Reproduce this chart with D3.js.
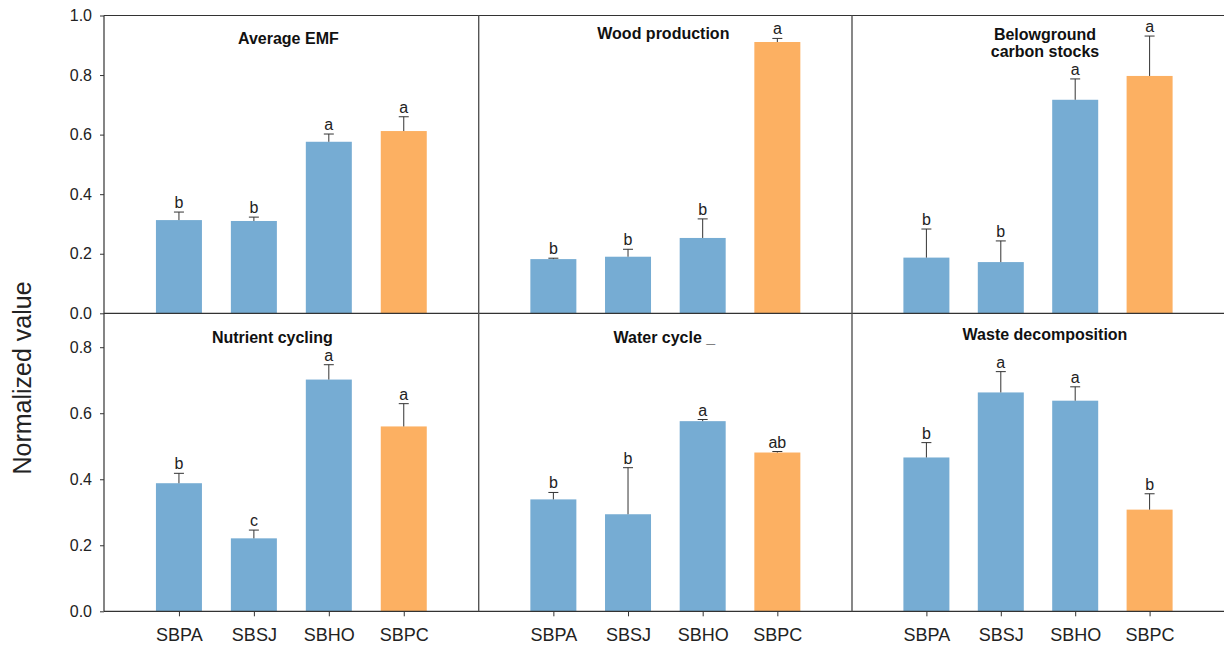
<!DOCTYPE html>
<html>
<head>
<meta charset="utf-8">
<script src="https://cdn.jsdelivr.net/npm/d3@7"></script>
<style>
  html, body { margin: 0; padding: 0; background: #fff; }
  svg { display: block; font-family: Arial, "Liberation Sans", sans-serif; }
</style>
</head>
<body>
<svg id="chart" width="1225" height="646"></svg>
<script>
// ---- data ----
const sites = ["SBPA", "SBSJ", "SBHO", "SBPC"];
const panelTitles = [
  ["Average EMF"], ["Wood production"], ["Belowground", "carbon stocks"],
  ["Nutrient cycling"], ["Water cycle _"], ["Waste decomposition"]
];
const meanEMF      = [0.313, 0.310, 0.576, 0.612];
const errEMF       = [0.027, 0.013, 0.026, 0.048];
const meanWood     = [0.182, 0.190, 0.253, 0.911];
const errWood      = [0.003, 0.025, 0.064, 0.012];
const meanBelow    = [0.187, 0.172, 0.717, 0.797];
const errBelow     = [0.096, 0.071, 0.070, 0.134];
const meanNutrient = [0.388, 0.221, 0.702, 0.560];
const errNutrient  = [0.030, 0.025, 0.045, 0.069];
const meanWater    = [0.339, 0.294, 0.576, 0.481];
const errWater     = [0.021, 0.141, 0.005, 0.003];
const meanWaste    = [0.466, 0.663, 0.638, 0.308];
const errWaste     = [0.045, 0.063, 0.042, 0.048];
const lettersEMF      = ["b", "b", "a", "a"];
const lettersWood     = ["b", "b", "b", "a"];
const lettersBelow    = ["b", "b", "a", "a"];
const lettersNutrient = ["b", "c", "a", "a"];
const lettersWater    = ["b", "b", "a", "ab"];
const lettersWaste    = ["b", "a", "a", "b"];
const topTicks    = [0.0, 0.2, 0.4, 0.6, 0.8, 1.0];
const bottomTicks = [0.0, 0.2, 0.4, 0.6, 0.8];
const highlightSite = "SBPC";

const panels = [
  { mean: meanEMF,      err: errEMF,      letters: lettersEMF },
  { mean: meanWood,     err: errWood,     letters: lettersWood },
  { mean: meanBelow,    err: errBelow,    letters: lettersBelow },
  { mean: meanNutrient, err: errNutrient, letters: lettersNutrient },
  { mean: meanWater,    err: errWater,    letters: lettersWater },
  { mean: meanWaste,    err: errWaste,    letters: lettersWaste }
];

// ---- layout ----
const colEdges = [104, 478.7, 852, 1224];
const rowTop = 15.5, rowMid = 313.3, rowBot = 611.3;
const titleLayout = [
  { dx: -3, y: 44 }, { dx: -2, y: 39 }, { dx: 7, y: 46 },
  { dx: -19, y: 343 }, { dx: -1, y: 343 }, { dx: 7, y: 340 }
];
const blue = "#76acd3", orange = "#fcb062", ink = "#222";

const svg = d3.select("#chart");

const yTop = d3.scaleLinear().domain([0, 1.0]).range([rowMid, rowTop]);
const yBot = d3.scaleLinear().domain([0, 0.9]).range([rowBot, rowMid + 0.9]);

function xScaleFor(col) {
  return d3.scalePoint().domain(sites).range([colEdges[col], colEdges[col + 1]]).padding(1);
}

const barW = 46, capW = 10;

panels.forEach((p, i) => {
  const row = Math.floor(i / 3), col = i % 3;
  const x = xScaleFor(col);
  const y = row === 0 ? yTop : yBot;
  const g = svg.append("g");
  const rows = sites.map((s, k) => ({ site: s, v: p.mean[k], e: p.err[k], l: p.letters[k] }));

  g.selectAll("rect.bar").data(rows).join("rect")
    .attr("class", "bar")
    .attr("x", d => x(d.site) - barW / 2)
    .attr("width", barW)
    .attr("y", d => y(d.v))
    .attr("height", d => y(0) - y(d.v))
    .attr("fill", d => d.site === highlightSite ? orange : blue);

  // upper error whiskers
  g.selectAll("line.err").data(rows).join("line")
    .attr("class", "err")
    .attr("x1", d => x(d.site)).attr("x2", d => x(d.site))
    .attr("y1", d => y(d.v)).attr("y2", d => y(d.v + d.e))
    .attr("stroke", "#333").attr("stroke-width", 1);
  g.selectAll("line.cap").data(rows).join("line")
    .attr("class", "cap")
    .attr("x1", d => x(d.site) - capW / 2).attr("x2", d => x(d.site) + capW / 2)
    .attr("y1", d => y(d.v + d.e)).attr("y2", d => y(d.v + d.e))
    .attr("stroke", "#333").attr("stroke-width", 1);

  // significance letters
  g.selectAll("text.sig").data(rows).join("text")
    .attr("class", "sig")
    .attr("x", d => x(d.site))
    .attr("y", d => y(d.v + d.e) - 4)
    .attr("text-anchor", "middle")
    .attr("font-size", 16)
    .attr("fill", ink)
    .text(d => d.l);

  // panel title
  const tl = titleLayout[i];
  const cx = (colEdges[col] + colEdges[col + 1]) / 2 + tl.dx;
  const t = g.append("text")
    .attr("x", cx).attr("y", tl.y)
    .attr("text-anchor", "middle")
    .attr("font-size", 16).attr("font-weight", "bold").attr("fill", "#111");
  panelTitles[i].forEach((line, j) => {
    t.append("tspan").attr("x", cx).attr("dy", j === 0 ? 0 : 17).text(line);
  });
  if (panelTitles[i].length > 1) t.attr("y", tl.y - 6);

  // category axis along the bottom row
  if (row === 1) {
    const ax = svg.append("g")
      .attr("transform", `translate(0,${rowBot})`)
      .call(d3.axisBottom(x).tickSize(5).tickPadding(12).tickSizeOuter(0));
    ax.select(".domain").remove();
    ax.selectAll("line").attr("stroke", "#333");
    ax.selectAll("text").attr("font-size", 18).attr("fill", ink)
      .attr("font-family", "Arial, 'Liberation Sans', sans-serif");
  }
});

// value axes on the left
function styleY(ax) {
  ax.select(".domain").remove();
  ax.selectAll("line").attr("stroke", "#333");
  ax.selectAll("text").attr("font-size", 16).attr("fill", ink)
    .attr("font-family", "Arial, 'Liberation Sans', sans-serif");
}
svg.append("g").attr("transform", `translate(${colEdges[0]},0)`)
  .call(d3.axisLeft(yTop).tickValues(topTicks).tickFormat(d3.format(".1f")).tickSize(4).tickPadding(8))
  .call(styleY);
svg.append("g").attr("transform", `translate(${colEdges[0]},0)`)
  .call(d3.axisLeft(yBot).tickValues(bottomTicks).tickFormat(d3.format(".1f")).tickSize(4).tickPadding(8))
  .call(styleY);

// frame and panel dividers
const frame = svg.append("g").attr("fill", "none");
frame.append("line").attr("x1", colEdges[0]).attr("x2", colEdges[3]).attr("y1", rowTop).attr("y2", rowTop)
  .attr("stroke", "#333").attr("stroke-width", 1.2);
frame.append("line").attr("x1", colEdges[0]).attr("x2", colEdges[3]).attr("y1", rowMid).attr("y2", rowMid)
  .attr("stroke", "#333").attr("stroke-width", 1.2);
frame.append("line").attr("x1", colEdges[0]).attr("x2", colEdges[3]).attr("y1", rowBot).attr("y2", rowBot)
  .attr("stroke", "#333").attr("stroke-width", 1.2);
frame.append("line").attr("x1", colEdges[0]).attr("x2", colEdges[0]).attr("y1", rowTop).attr("y2", rowBot)
  .attr("stroke", "#333").attr("stroke-width", 1.2);
[colEdges[1], colEdges[2]].forEach(xv => {
  frame.append("line").attr("x1", xv).attr("x2", xv).attr("y1", rowTop).attr("y2", rowBot)
    .attr("stroke", "#555").attr("stroke-width", 1.4);
});

// shared y-axis title
svg.append("text")
  .attr("transform", "translate(31,378) rotate(-90)")
  .attr("text-anchor", "middle")
  .attr("font-size", 25).attr("fill", ink)
  .text("Normalized value");
</script>
</body>
</html>
